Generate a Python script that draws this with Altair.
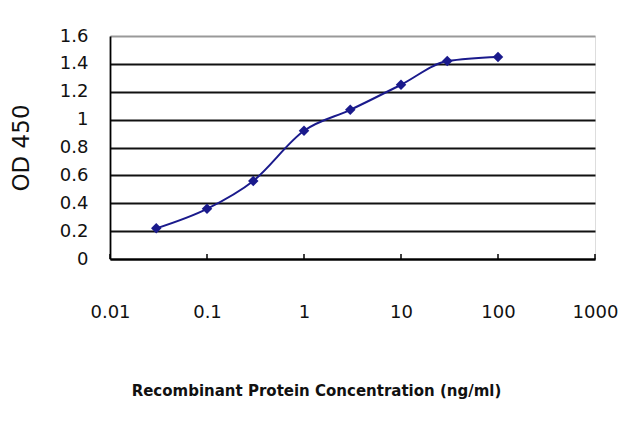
import altair as alt
import pandas as pd

conc = [0.03, 0.1, 0.3, 1, 3, 10, 30, 100]
od = [0.22, 0.36, 0.56, 0.92, 1.07, 1.25, 1.42, 1.45]
x_ticks = [0.01, 0.1, 1, 10, 100, 1000]
y_ticks = [0, 0.2, 0.4, 0.6, 0.8, 1.0, 1.2, 1.4, 1.6]

df = pd.DataFrame({"conc": conc, "od": od})
ticks_df = pd.DataFrame({"t": x_ticks})

FONT = "DejaVu Sans"
NAVY = "#1a1a8c"
TXT = "#111111"

xscale = alt.Scale(type="log", domain=[0.01, 1000])
yscale = alt.Scale(domain=[0, 1.6], nice=False)

xaxis = alt.Axis(
    values=x_ticks, format="~g", grid=False, ticks=False,
    labelFont=FONT, labelFontSize=18, labelColor=TXT, labelPadding=44,
    labelOverlap=False, labelFlush=False,
    domainColor="black", domainWidth=1.8,
    title="Recombinant Protein Concentration (ng/ml)",
    titleFont=FONT, titleFontSize=15, titleFontWeight="bold", titleColor=TXT,
    titleX=206, titleY=131, titleBaseline="middle", titleAlign="center",
)
yaxis = alt.Axis(
    values=y_ticks, tickCount=9, format="~g", grid=True,
    gridColor={"condition": {"test": "datum.value >= 1.6", "value": "#999999"}, "value": "#111111"},
    gridWidth=2, ticks=False,
    labelFont=FONT, labelFontSize=18, labelColor=TXT, labelPadding=22,
    labelOverlap=False, labelFlush=False,
    domainColor="black", domainWidth=1.8,
    title="OD 450", titleFont=FONT, titleFontSize=23, titleFontWeight="normal",
    titleColor=TXT, titleX=-77, titleBaseline="bottom",
)

line = alt.Chart(df).mark_line(color=NAVY, strokeWidth=2, interpolate="monotone").encode(
    x=alt.X("conc:Q", scale=xscale, axis=xaxis),
    y=alt.Y("od:Q", scale=yscale, axis=yaxis),
)
pts = alt.Chart(df).mark_point(shape="diamond", filled=True, size=110, color=NAVY, opacity=1).encode(
    x=alt.X("conc:Q", scale=xscale, axis=xaxis),
    y=alt.Y("od:Q", scale=yscale, axis=yaxis),
)
tk = alt.Chart(ticks_df).mark_rule(color="black", strokeWidth=1.5).encode(
    x=alt.X("t:Q", scale=xscale, axis=xaxis),
    y=alt.value(223),
    y2=alt.value(218),
)

chart = alt.layer(line, tk, pts).properties(
    width=485, height=223,
    autosize=alt.AutoSizeParams(type="none"),
    padding={"left": 102, "top": 28, "right": 37, "bottom": 160},
).configure_view(stroke="#999999", strokeWidth=1.5).configure(background="white")

chart.save("out.html", embed_options={"renderer": "svg", "actions": False})
